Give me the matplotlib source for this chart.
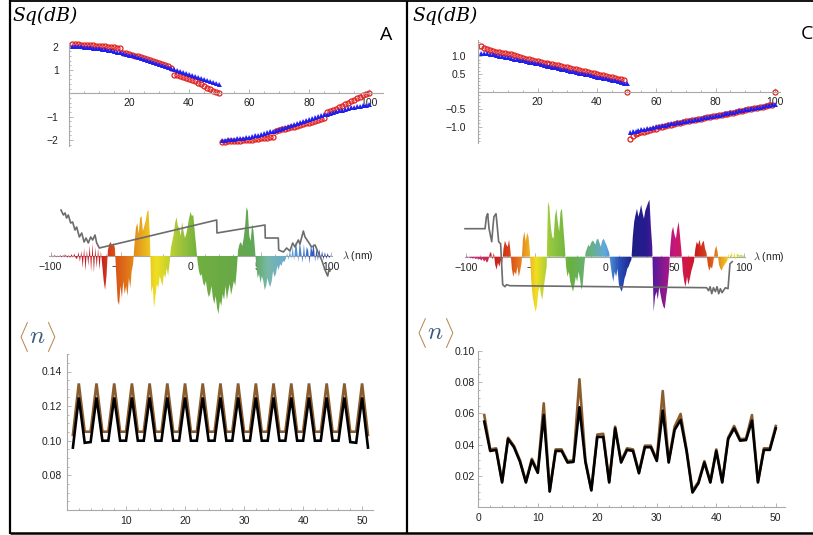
import numpy as np
import matplotlib
matplotlib.use('Agg')
import matplotlib.pyplot as plt
from matplotlib.colors import LinearSegmentedColormap
from matplotlib.lines import Line2D
from matplotlib.ticker import MultipleLocator

plt.rcParams['font.family'] = ['Liberation Sans', 'DejaVu Sans']
plt.rcParams['mathtext.fontset'] = 'cm'

# ---------------- data ----------------
sq_x1 = list(range(1, 51))
sq_x2 = list(range(51, 101))

sqA_red1 = [2.10, 2.10, 2.10, 2.09, 2.09, 2.08, 2.07, 2.06, 2.05, 2.04,
            2.03, 2.02, 2.00, 1.99, 1.97, 1.96, 1.96, 1.73, 1.71, 1.68,
            1.65, 1.62, 1.58, 1.55, 1.51, 1.47, 1.43, 1.39, 1.34, 1.30,
            1.25, 1.20, 1.15, 1.09, 0.80, 0.77, 0.73, 0.69, 0.65, 0.61,
            0.56, 0.51, 0.45, 0.38, 0.31, 0.24, 0.17, 0.11, 0.06, 0.02]
sqA_blue1 = [2.03, 2.03, 2.02, 2.01, 2.00, 1.99, 1.98, 1.96, 1.95, 1.93,
             1.91, 1.89, 1.87, 1.85, 1.82, 1.79, 1.76, 1.73, 1.70, 1.66,
             1.63, 1.59, 1.55, 1.51, 1.47, 1.43, 1.38, 1.34, 1.30, 1.25,
             1.21, 1.16, 1.12, 1.07, 1.03, 0.98, 0.94, 0.90, 0.86, 0.82,
             0.78, 0.74, 0.70, 0.66, 0.62, 0.58, 0.54, 0.50, 0.46, 0.42]
sqA_red2 = [-2.07, -2.07, -2.06, -2.06, -2.05, -2.04, -2.03, -2.02, -2.01, -2.00,
            -1.99, -1.97, -1.96, -1.94, -1.93, -1.91, -1.89, -1.87, -1.60, -1.58,
            -1.55, -1.52, -1.49, -1.46, -1.43, -1.40, -1.36, -1.33, -1.29, -1.26,
            -1.22, -1.18, -1.14, -1.10, -1.06, -0.80, -0.76, -0.71, -0.66, -0.60,
            -0.54, -0.48, -0.42, -0.35, -0.28, -0.22, -0.15, -0.09, -0.04, 0.00]
sqA_blue2 = [-2.00, -1.99, -1.98, -1.97, -1.96, -1.94, -1.93, -1.91, -1.89, -1.86,
             -1.84, -1.81, -1.78, -1.75, -1.72, -1.68, -1.64, -1.60, -1.56, -1.52,
             -1.48, -1.44, -1.40, -1.36, -1.31, -1.27, -1.23, -1.18, -1.14, -1.10,
             -1.06, -1.02, -0.98, -0.94, -0.90, -0.87, -0.83, -0.80, -0.76, -0.73,
             -0.70, -0.67, -0.64, -0.61, -0.59, -0.56, -0.54, -0.52, -0.50, -0.48]

sqC_red1 = [1.30, 1.25, 1.20, 1.17, 1.15, 1.13, 1.12, 1.11, 1.09, 1.08,
            1.06, 1.03, 1.00, 0.97, 0.95, 0.93, 0.92, 0.90, 0.88, 0.86,
            0.84, 0.82, 0.80, 0.79, 0.78, 0.77, 0.75, 0.73, 0.71, 0.69,
            0.67, 0.65, 0.63, 0.61, 0.60, 0.58, 0.56, 0.54, 0.52, 0.50,
            0.48, 0.46, 0.44, 0.42, 0.41, 0.39, 0.37, 0.35, 0.33, 0.00]
sqC_blue1 = [1.11, 1.10, 1.09, 1.07, 1.06, 1.04, 1.02, 1.01, 0.99, 0.97,
             0.96, 0.94, 0.92, 0.90, 0.89, 0.87, 0.85, 0.83, 0.82, 0.80,
             0.78, 0.76, 0.74, 0.73, 0.71, 0.69, 0.67, 0.65, 0.63, 0.62,
             0.60, 0.58, 0.56, 0.54, 0.52, 0.51, 0.49, 0.47, 0.45, 0.43,
             0.41, 0.39, 0.38, 0.36, 0.34, 0.32, 0.30, 0.28, 0.26, 0.24]
sqC_red2 = [-1.33, -1.25, -1.20, -1.17, -1.15, -1.13, -1.11, -1.09, -1.07, -1.05,
            -1.01, -0.99, -0.97, -0.95, -0.93, -0.91, -0.89, -0.88, -0.86, -0.84,
            -0.83, -0.81, -0.79, -0.78, -0.76, -0.75, -0.73, -0.71, -0.70, -0.68,
            -0.67, -0.65, -0.63, -0.62, -0.60, -0.59, -0.57, -0.55, -0.54, -0.52,
            -0.50, -0.49, -0.47, -0.46, -0.44, -0.42, -0.41, -0.39, -0.38, 0.00]
sqC_blue2 = [-1.13, -1.11, -1.10, -1.08, -1.07, -1.05, -1.03, -1.02, -1.00, -0.98,
             -0.97, -0.95, -0.94, -0.92, -0.90, -0.89, -0.87, -0.86, -0.84, -0.82,
             -0.81, -0.79, -0.78, -0.76, -0.74, -0.73, -0.71, -0.69, -0.68, -0.66,
             -0.65, -0.63, -0.61, -0.60, -0.58, -0.57, -0.55, -0.53, -0.52, -0.50,
             -0.48, -0.47, -0.45, -0.44, -0.42, -0.40, -0.39, -0.37, -0.36, -0.34]

topA_xticks = [20, 40, 60, 80, 100]
topA_yticks = [-2, -1, 1, 2]
topA_ylabels = ['\u22122', '\u22121', '1', '2']
topC_xticks = [20, 40, 60, 80, 100]
topC_yticks = [-1.0, -0.5, 0.5, 1.0]
topC_ylabels = ['\u22121.0', '\u22120.5', '0.5', '1.0']

# spectra (nm, -100..100 step 1) ; heights in display units
spec_nm = list(range(-100, 101))
specA_val = ([0, 0.5, -0.5, 1, -1, 0.5, -1, 1, -1.5, 1, -1, 1.5, -2, 1, -2, 2, -1.5, 2.5, -2]
             + [-3, 4, -6, 5, -12, 8, -15, 6, -10, 11, -16, 13, -17, 9, -12, 8, -14, 5, -10, -25, -34, -20]
             + [6, 12, 14, 10, 13, 8]
             + [-20, -45, -49, -30, -42, -25, -38, -30, -40, -22, -32, -15, -8]
             + [12, 28, 33, 22, 38, 40, 25, 30, 35, 44, 46, 20]
             + [-37, -30, -52, -40, -28, -32, -20, -25, -30, -18, -22, -12, -20, -8]
             + [8, 15, 22, 33, 39, 30, 28, 20, 34, 25, 18, 22, 30, 38, 44, 40, 41, 25, 10]
             + [-5, -15, -20, -18, -27, -30, -25, -35, -41, -38, -30, -42, -48, -40, -52, -58,
                -45, -50, -38, -44, -30, -44, -35, -28, -39, -32, -25, -30, -15]
             + [6, 12, 14, 10, 18, 30, 49, 45, 20, 15, 32, 25, 8]
             + [-10, -22, -18, -27, -20, -25, -34, -30, -22, -28, -31, -25, -15, -21, -18, -10,
                -14, -8, -10, -5, -6, -3]
             + [3, -4, 6, -3, 10, -5, 14, 8, -6, 16, 5, -7, 12, -4, 9, 6, -8, 11, 4, 13, -6, 8,
                -5, 7, -3, 5, -4, 4, -3, 3, -2, 1])
specC_val = ([-0.5, -1, 0.5, -1.5, -1, -2, -1, -2.5, -1.5, -3, -2, -4, -2, -5, -3, -6, -4]
             + [3, 5, -3, 4, -8, -13, -6, -10, -4, -7, 8, 16, 12, 10, 17, 6,
                -12, -20, -15, -18, -10, -20, -14, -6, 18, 25, 15, 24, 20, 5,
                -25, -40, -48, -55, -50, -35, -30, -38, -43, -30, -20, -10]
             + [55, 50, 30, 20, 18, 40, 48, 35, 25, 45, 48, 30, 12]
             + [-10, -20, -15, -25, -30, -35, -28, -20, -25, -15, -22, -33, -28, -10]
             + [4, 8, 12, 10, 14, 16, 15, 12, 17, 18, 14, 10, 16, 18, 15, 12, 8, 4]
             + [-8, -18, -25, -15, -20, -12, -28, -32, -35, -30, -22, -18, -12, -10, -6, -3]
             + [20, 35, 42, 48, 40, 45, 52, 44, 38, 46, 50, 54, 57, 30, 10]
             + [-55, -40, -35, -43, -30, -38, -45, -50, -52, -40, -30, -15]
             + [10, 25, 30, 22, 18, 28, 35, 20, 5]
             + [-15, -25, -30, -20, -28, -22, -15, -10, -5]
             + [8, 15, 12, 17, 10, 14, 16, 8, 4]
             + [-8, -14, -10, -12, -5]
             + [6, 11, 5]
             + [-8, -12, -14, -10, -8, -6, -4]
             + [3, -3, 5, -2, 4, -3, 3, 2, 1, 2, 1, 1])

lineA_nm = [-92.5, -90.8, -89.6, -88.5, -87.3, -85.6, -84.2, -82.5, -81.3, -79.4, -77.7, -76.0,
            -74.6, -73.0, -71.3, -69.9, -68.2, -67.0, -65.1, 18.7, 18.9, 53.2, 53.4, 62.7, 63.0,
            66.3, 68.7, 71.0, 73.0, 74.6, 77.0, 78.2, 80.6, 81.8, 84.2, 86.5, 89.0, 91.3, 93.7,
            96.1, 98.0, 99.2, 99.6]
lineA_val = [46, 41, 43, 38, 41, 33, 34, 26, 29, 19, 23, 14,
             18, 13, 19, 16, 21, 13, 8, 36, 23, 31, 18, 18, 6,
             4, 8, 5, 13, 9, 16, 12, 25, 19, 14, 9, 11, 3, -4,
             -14, -20, -12, -15]
lineC_nm = [-100.7, -86.3, -85.3, -84.4, -83.4, -81.5, -80.6, -79.9, -78.4, -77.5, -76.5, -75.1,
            -73.6, -72.0, -70.8, -68.4, 73.1, 74.5, 75.6, 76.8, 78.0, 79.4, 80.6, 81.8, 83.0,
            84.2, 86.6, 88.5, 89.9, 91.5]
lineC_val = [28, 28, 40, 43, 28, 15, 30, 40, 43, 30, 15, 13,
             -28, -30, -28, -29, -31, -34, -30, -37, -31, -35, -30, -37, -32,
             -36, -31, -32, -7, -5]

spec_ticks = [-100, -50, 0, 50, 100]
spec_labels = ['\u2212100', '\u221250', '0', '50', '100']

n_x = list(range(1, 52))
nA_black = [0.096] + [0.125, 0.0988, 0.0992] + [0.125, 0.100, 0.100] * 14 + [0.125, 0.0992, 0.0988] + [0.125, 0.096]
nA_brown = [0.1033] + [0.1331, 0.1052, 0.1052] * 16 + [0.1331, 0.1033]
nC_x = list(range(1, 51))
nC_black = [0.0548, 0.036, 0.0367, 0.0158, 0.0437, 0.0384, 0.0292, 0.0158, 0.030, 0.022,
            0.059, 0.010, 0.036, 0.036, 0.0286, 0.029, 0.064, 0.029, 0.0107, 0.045,
            0.045, 0.0158, 0.0505, 0.0286, 0.0367, 0.036, 0.0217, 0.0384, 0.0384, 0.0296,
            0.0618, 0.0286, 0.0495, 0.0559, 0.036, 0.0094, 0.0154, 0.0286, 0.0158, 0.036,
            0.0158, 0.0437, 0.0505, 0.0426, 0.043, 0.0554, 0.0158, 0.0367, 0.0367, 0.0505]
nC_brown = [0.059, 0.037, 0.0377, 0.0165, 0.0445, 0.0392, 0.030, 0.0165, 0.031, 0.023,
            0.0665, 0.0105, 0.037, 0.037, 0.0295, 0.030, 0.0819, 0.030, 0.0112, 0.0465,
            0.047, 0.0165, 0.0516, 0.0295, 0.0377, 0.037, 0.0225, 0.0394, 0.0394, 0.0305,
            0.0744, 0.0295, 0.0516, 0.0597, 0.037, 0.0107, 0.0162, 0.0295, 0.0165, 0.037,
            0.0165, 0.0445, 0.052, 0.0435, 0.044, 0.059, 0.0165, 0.0377, 0.0377, 0.052]

# ---------------- styling ----------------
W, H = 813, 535
fig = plt.figure(figsize=(W / 100, H / 100), dpi=100)
AX_COL = '#a9a9a9'
TXT_COL = '#222222'
RED = '#e0201e'
BLUE = '#1f1ff0'
BROWN = '#8b5d2e'


def px_axes(l, t, r, b):
    return fig.add_axes([l / W, 1 - b / H, (r - l) / W, (b - t) / H])


def style(ax, xlim, ylim, x0, y0, xpad, ypad, left=True):
    ax.set_xlim(*xlim)
    ax.set_ylim(*ylim)
    ax.patch.set_alpha(0)
    for s in ('top', 'right'):
        ax.spines[s].set_visible(False)
    ax.spines['bottom'].set_position(('data', y0))
    ax.spines['left'].set_position(('data', x0))
    ax.spines['left'].set_visible(left)
    for s in ('left', 'bottom'):
        ax.spines[s].set_color(AX_COL)
        ax.spines[s].set_linewidth(0.8)
    ax.tick_params(which='both', direction='in', color=AX_COL, width=0.6,
                   labelsize=7.5, labelcolor=TXT_COL)
    ax.tick_params(which='major', length=3)
    ax.tick_params(which='minor', length=1.6)
    ax.tick_params(axis='x', pad=xpad)
    ax.tick_params(axis='y', pad=ypad)


# ---- top A ----
ax = px_axes(69, 43.2, 383, 145.7)
style(ax, (0, 104.7), (-2.25, 2.15), 0, 0, 3.3, 7.5)
ax.plot(sq_x1, sqA_red1, 'o', mfc='none', mec=RED, ms=3.6, mew=0.9, clip_on=False)
ax.plot(sq_x2, sqA_red2, 'o', mfc='none', mec=RED, ms=3.6, mew=0.9, clip_on=False)
ax.plot(sq_x1, sqA_blue1, '^', color=BLUE, ms=3.6, mew=0, clip_on=False)
ax.plot(sq_x2, sqA_blue2, '^', color=BLUE, ms=3.6, mew=0, clip_on=False)
ax.set_xticks(topA_xticks)
ax.set_yticks(topA_yticks)
ax.set_yticklabels(topA_ylabels)
ax.xaxis.set_minor_locator(MultipleLocator(5))
ax.yaxis.set_minor_locator(MultipleLocator(0.2))

# ---- top C ----
ax = px_axes(478.3, 40.2, 780, 143.2)
style(ax, (0, 101.7), (-1.46, 1.46), 0, 0, 4.0, 9.0)
ax.plot(sq_x1, sqC_red1, 'o', mfc='none', mec=RED, ms=3.6, mew=0.9, clip_on=False)
ax.plot(sq_x2, sqC_red2, 'o', mfc='none', mec=RED, ms=3.6, mew=0.9, clip_on=False)
ax.plot(sq_x1, sqC_blue1, '^', color=BLUE, ms=3.6, mew=0, clip_on=False)
ax.plot(sq_x2, sqC_blue2, '^', color=BLUE, ms=3.6, mew=0, clip_on=False)
ax.set_xticks(topC_xticks)
ax.set_yticks(topC_yticks)
ax.set_yticklabels(topC_ylabels)
ax.xaxis.set_minor_locator(MultipleLocator(5))
ax.yaxis.set_minor_locator(MultipleLocator(0.1))

# ---- middle spectra ----
stopsA = [-100, -85, -65, -55, -45, -35, -25, -10, 5, 30, 45, 55, 70, 85, 100]
colsA = ['#d0287a', '#c8182a', '#c81e1e', '#d85018', '#e07818', '#e8a820', '#f0e020',
         '#a8c838', '#70b040', '#68a848', '#60a858', '#78b8a8', '#68a8d8', '#3868c8', '#1c2890']
stopsC = [-100, -88, -80, -70, -60, -50, -40, -25, -10, 0, 10, 20, 30, 35, 45, 50, 60, 65, 75, 82, 90, 100]
colsC = ['#c02a90', '#c83060', '#cc1a20', '#d84018', '#e88820', '#f0e020', '#98c840', '#68b040',
         '#68b088', '#60a8e0', '#2850b8', '#1e1e88', '#2a1a90', '#5a1a9a', '#a0188a', '#c81878',
         '#d0183a', '#cc1a20', '#d85018', '#e89020', '#f0e020', '#b8d840']


def spectrum(box, ylim, vals, stops, cols, line_nm, line_val, lam_x):
    ax = px_axes(*box)
    style(ax, (-101, 101), ylim, -101, 0, 4.3, 3, left=False)
    poly = ax.fill_between(spec_nm, 0, vals, facecolor='none', edgecolor='none', lw=0)
    path = poly.get_paths()[0]
    pos = [(s - stops[0]) / (stops[-1] - stops[0]) for s in stops]
    cmap = LinearSegmentedColormap.from_list('sp', list(zip(pos, cols)))
    grad = np.linspace(0, 1, 600)[None, :]
    im = ax.imshow(grad, cmap=cmap, aspect='auto', origin='lower',
                   extent=(stops[0], stops[-1], ylim[0], ylim[1]), zorder=3,
                   interpolation='bilinear')
    im.set_clip_path(path, transform=ax.transData)
    ax.plot(line_nm, line_val, color='#6c6c6c', lw=1.2, zorder=4, clip_on=False)
    ax.set_xlim(-101, 101)
    ax.set_ylim(*ylim)
    ax.set_yticks([])
    ax.set_xticks(spec_ticks)
    ax.set_xticklabels(spec_labels)
    ax.xaxis.set_minor_locator(MultipleLocator(10))
    ax.text(lam_x, 0, r'$\lambda$ (nm)', fontsize=7.5, color=TXT_COL, va='center', ha='left',
            clip_on=False)


spectrum((49.1, 201, 331.9, 318), (-62, 55), specA_val, stopsA, colsA, lineA_nm, lineA_val, 108.5)
spectrum((464.6, 194.7, 745.4, 318.7), (-62, 62), specC_val, stopsC, colsC, lineC_nm, lineC_val, 106.5)

# ---- bottom A ----
ax = px_axes(67, 354.2, 373.3, 509.9)
style(ax, (0, 51.9), (0.06, 0.15), 0, 0.06, 4.5, 3.6)
ax.plot(n_x, nA_brown, color=BROWN, lw=1.9, clip_on=False, solid_joinstyle='miter')
ax.plot(n_x, nA_black, color='black', lw=1.9, clip_on=False, solid_joinstyle='miter')
ax.set_xticks([10, 20, 30, 40, 50])
ax.set_yticks([0.08, 0.10, 0.12, 0.14])
ax.set_yticklabels(['0.08', '0.10', '0.12', '0.14'])
ax.xaxis.set_minor_locator(MultipleLocator(2))
ax.yaxis.set_minor_locator(MultipleLocator(0.005))

# ---- bottom C ----
ax = px_axes(478.3, 351, 785.3, 507.2)
style(ax, (0, 51.6), (0, 0.10), 0, 0, 4.5, 2.4)
ax.plot(nC_x, nC_brown, color=BROWN, lw=1.9, clip_on=False)
ax.plot(nC_x, nC_black, color='black', lw=1.9, clip_on=False)
ax.set_xticks([0, 10, 20, 30, 40, 50])
ax.set_yticks([0.02, 0.04, 0.06, 0.08, 0.10])
ax.set_yticklabels(['0.02', '0.04', '0.06', '0.08', '0.10'])
ax.xaxis.set_minor_locator(MultipleLocator(2))
ax.yaxis.set_minor_locator(MultipleLocator(0.005))

# ---- texts ----
def ftext(x, y, s, **kw):
    fig.text(x / W, 1 - y / H, s, **kw)


ftext(12, 16, 'Sq(dB)', family='DejaVu Serif', style='italic', fontsize=13.5, va='center')
ftext(412, 16, 'Sq(dB)', family='DejaVu Serif', style='italic', fontsize=13.5, va='center')
ftext(386, 35, 'A', family='Open Sans', fontsize=14, ha='center', va='center')
ftext(801, 34, 'C', family='Open Sans', fontsize=14, ha='left', va='center')

BRK = '#b8864e'
NCOL = '#3c5a80'
for x0, y0 in ((17, 337), (415, 333)):
    ftext(x0, y0, r'$\langle$', fontsize=18, color=BRK, va='center')
    ftext(x0 + 12, y0 - 1, r'$n$', fontsize=18, color=NCOL, va='center')
    ftext(x0 + 28, y0, r'$\rangle$', fontsize=18, color=BRK, va='center')

# ---- frame ----
def fline(x0, y0, x1, y1, lw=1.6):
    fig.add_artist(Line2D([x0 / W, x1 / W], [1 - y0 / H, 1 - y1 / H], transform=fig.transFigure,
                          color='black', lw=lw, solid_capstyle='butt'))


fline(10, 0, 10, 534)
fline(9.5, 1, 813, 1, lw=1.3)
fline(9.5, 533, 813, 533, lw=1.8)
fline(406.5, 1, 406.5, 533)

fig.savefig('out.png', dpi=100)
